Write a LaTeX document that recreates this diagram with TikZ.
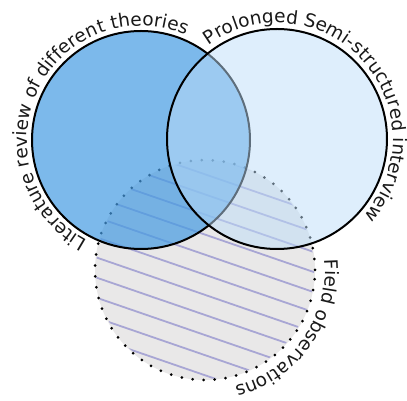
\documentclass[tikz,border=0pt]{standalone}
\usepackage{fontspec}
\newfontfamily\labfont{DejaVu Sans}
\usetikzlibrary{decorations.text}
\definecolor{leftblue}{RGB}{69,155,226}
\definecolor{rightblue}{RGB}{189,221,249}
\definecolor{fieldgray}{RGB}{233,232,232}
\definecolor{hatchcol}{RGB}{168,166,212}
\definecolor{labcol}{RGB}{25,25,25}
\tikzset{
  ring/.style={draw=black, line width=2pt},
  dotring/.style={draw=black, line width=3pt, line cap=round, dash pattern=on 0pt off 11pt},
  hatchline/.style={draw=hatchcol, line width=1.8pt},
  curvedlabel/.style={decorate, decoration={text along path, text align=left, text color=labcol}},
}
\begin{document}
\begin{tikzpicture}[x=1pt,y=1pt]
\useasboundingbox (0,0) rectangle (407,401);
\coordinate (cl) at (141,261);
\coordinate (cr) at (277,262);
\coordinate (cb) at (205,131);
% field observations circle
\fill[fieldgray] (cb) circle[radius=110pt];
\begin{scope}
  \clip (cb) circle[radius=109pt];
  \begin{scope}[shift={(95,144)}, rotate=-19]
    \foreach \k in {-14,...,12}
      \draw[hatchline] (-320,\k*19) -- (320,\k*19);
  \end{scope}
\end{scope}
\draw[dotring] (cb) circle[radius=110pt];
% literature circle
\fill[leftblue, fill opacity=0.7] (cl) circle[radius=109pt];
\draw[ring] (cl) circle[radius=109pt];
% interview circle
\fill[rightblue, fill opacity=0.5] (cr) circle[radius=110pt];
\draw[ring] (cr) circle[radius=110pt];
% labels
\path[curvedlabel, decoration={text={|\labfont\fontsize{18.5}{21}\selectfont|Literature review of different theories}}]
  (cl) ++(242:114pt) arc[start angle=242, end angle=20, radius=114pt];
\path[curvedlabel, decoration={text={|\labfont\fontsize{18.5}{21}\selectfont|Prolonged Semi-structured interview}}]
  (cr) ++(126:116pt) arc[start angle=126, end angle=-90, radius=116pt];
\path[curvedlabel, decoration={text={|\labfont\fontsize{18.5}{21}\selectfont|Field observations}}]
  (cb) ++(5:120pt) arc[start angle=5, end angle=-130, radius=120pt];
\end{tikzpicture}
\end{document}
